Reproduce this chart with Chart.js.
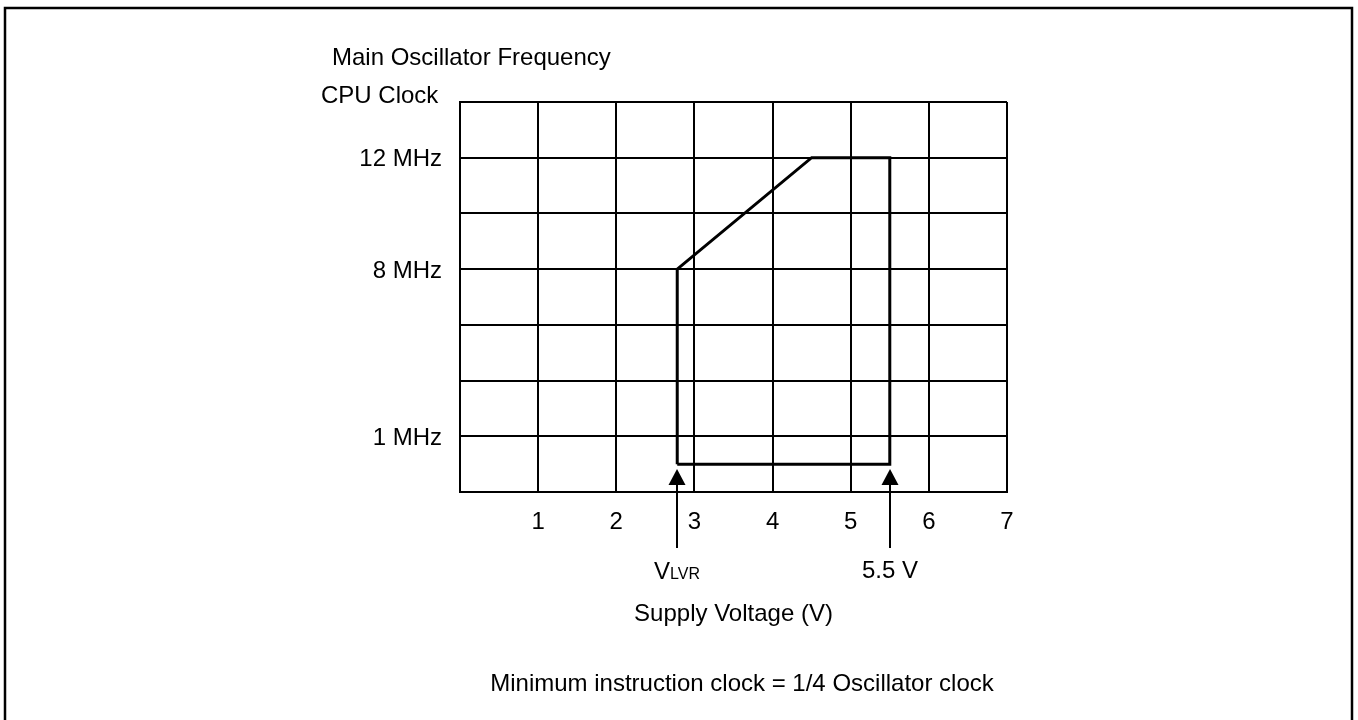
<!DOCTYPE html>
<html>
<head>
<meta charset="utf-8">
<script src="https://cdn.jsdelivr.net/npm/chart.js@4/dist/chart.umd.min.js"></script>
<style>
  html, body { margin: 0; padding: 0; background: #fff; }
  canvas { display: block; }
</style>
</head>
<body>
<canvas id="chart" width="1358" height="720"></canvas>
<script>
// operating area outline, x = supply voltage, y = grid row (frequency axis is not linear)
const areaVolts = [2.78, 2.78, 4.5, 5.5, 5.5, 2.78];
const areaRows = [0.5, 4, 6, 6, 0.5, 0.5];

// frequency labels sit on these grid rows
const freqRows = [1, 4, 6];
const freqLabels = ['1 MHz', '8 MHz', '12 MHz'];

// arrows under the plot
const arrowVolts = [2.78, 5.5];
const arrowLabels = ['VLVR', '5.5 V'];

const FONT = '"Liberation Sans", Arial, sans-serif';
Chart.defaults.font.family = FONT;
Chart.defaults.font.size = 24;
Chart.defaults.color = '#000';

const notes = {
  id: 'notes',
  afterDraw(chart) {
    const ctx = chart.ctx;
    const area = chart.chartArea;
    const x = chart.scales.x;
    ctx.save();
    ctx.fillStyle = '#000';
    ctx.strokeStyle = '#000';

    // page frame (open at the bottom)
    ctx.lineWidth = 2.5;
    ctx.beginPath();
    ctx.moveTo(5, 720);
    ctx.lineTo(5, 8);
    ctx.lineTo(1352, 8);
    ctx.lineTo(1352, 720);
    ctx.stroke();

    // axis captions
    ctx.font = '24px ' + FONT;
    ctx.textBaseline = 'middle';
    ctx.textAlign = 'left';
    ctx.fillText('Main Oscillator Frequency', 332, 58);
    ctx.fillText('CPU Clock', 321, 96);
    ctx.textAlign = 'center';
    ctx.fillText('Supply Voltage (V)', (area.left + area.right) / 2, 614);
    ctx.fillText('Minimum instruction clock = 1/4 Oscillator clock', 742, 684);

    // arrows
    arrowVolts.forEach((v, i) => {
      const px = Math.round(x.getPixelForValue(v));
      ctx.lineWidth = 2;
      ctx.beginPath();
      ctx.moveTo(px, area.bottom - 8);
      ctx.lineTo(px, area.bottom + 56);
      ctx.stroke();
      ctx.beginPath();
      ctx.moveTo(px, area.bottom - 23);
      ctx.lineTo(px - 8.5, area.bottom - 7);
      ctx.lineTo(px + 8.5, area.bottom - 7);
      ctx.closePath();
      ctx.fill();

      const y = area.bottom + 78;
      const label = arrowLabels[i];
      if (label === 'VLVR') {
        ctx.font = '24px ' + FONT;
        const w1 = ctx.measureText('V').width;
        ctx.font = '16px ' + FONT;
        const w2 = ctx.measureText('LVR').width;
        let sx = px - (w1 + w2) / 2;
        ctx.textAlign = 'left';
        ctx.textBaseline = 'alphabetic';
        ctx.font = '24px ' + FONT;
        ctx.fillText('V', sx, y + 9);
        ctx.font = '16px ' + FONT;
        ctx.fillText('LVR', sx + w1, y + 9);
      } else {
        ctx.font = '24px ' + FONT;
        ctx.textAlign = 'center';
        ctx.textBaseline = 'middle';
        ctx.fillText(label, px, y + 1);
      }
    });
    ctx.restore();
  }
};

new Chart(document.getElementById('chart'), {
  type: 'scatter',
  data: {
    datasets: [{
      data: areaVolts.map((v, i) => ({ x: v, y: areaRows[i] })),
      showLine: true,
      borderColor: '#000',
      borderWidth: 3,
      pointRadius: 0,
      fill: false,
      tension: 0
    }]
  },
  options: {
    responsive: false,
    animation: false,
    layout: { padding: { left: 0, top: 102, right: 351, bottom: 0 } },
    plugins: {
      legend: { display: false },
      tooltip: { enabled: false }
    },
    scales: {
      x: {
        type: 'linear',
        min: 0,
        max: 7,
        afterFit(s) { s.height = 228; },
        border: { display: true, color: '#000', width: 2 },
        grid: { color: '#000', lineWidth: 2, drawTicks: false },
        ticks: {
          stepSize: 1,
          padding: 16,
          maxRotation: 0,
          callback: v => (v === 0 ? '' : v)
        }
      },
      y: {
        type: 'linear',
        min: 0,
        max: 7,
        afterFit(s) { s.width = 460; },
        border: { display: true, color: '#000', width: 2 },
        grid: { color: '#000', lineWidth: 2, drawTicks: false },
        ticks: {
          stepSize: 1,
          padding: 18,
          labelOffset: 2,
          callback: v => {
            const i = freqRows.indexOf(v);
            return i < 0 ? '' : freqLabels[i];
          }
        }
      }
    }
  },
  plugins: [notes]
});
</script>
</body>
</html>
